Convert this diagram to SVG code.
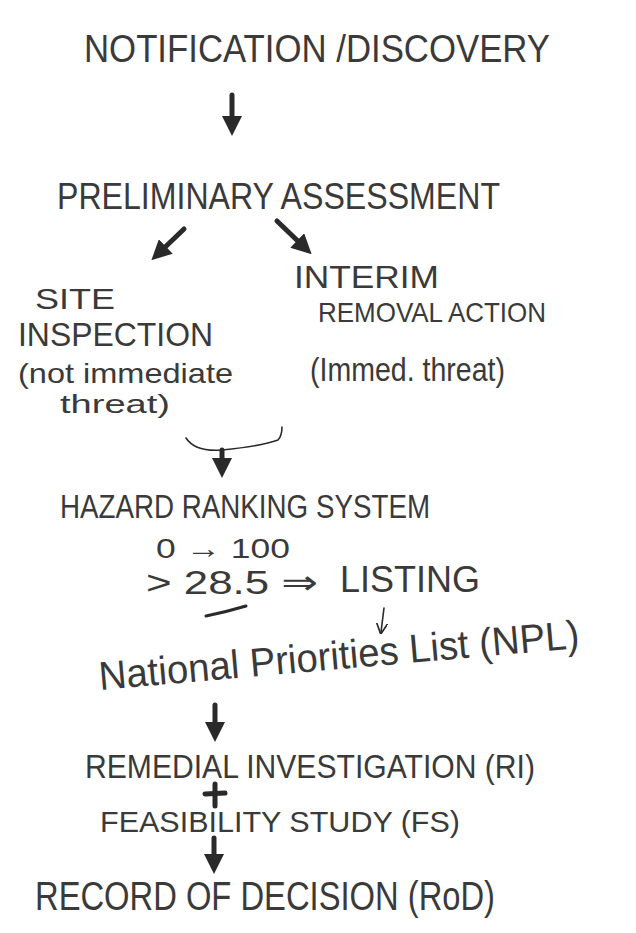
<svg xmlns="http://www.w3.org/2000/svg" width="636" height="933" viewBox="0 0 636 933">
<style>
  .t { font-family: "Liberation Sans", "DejaVu Sans", sans-serif; fill: #3a3a3a; }
  .c { fill: none; stroke: #2a2a2a; stroke-linecap: round; stroke-linejoin: round; }
  .thick { stroke-width: 5; }
  .thin { stroke-width: 1.6; }
</style>
<defs>
  <marker id="ah" viewBox="0 0 10 10" refX="4" refY="5" markerWidth="4" markerHeight="4" orient="auto" markerUnits="strokeWidth">
    <path d="M0,0 L10,5 L0,10 z" fill="#2a2a2a"/>
  </marker>
  <marker id="ahs" viewBox="0 0 10 10" refX="8" refY="5" markerWidth="7" markerHeight="7" orient="auto" markerUnits="strokeWidth">
    <path d="M0,0 L10,5 L0,10" fill="none" stroke="#2a2a2a" stroke-width="1.5"/>
  </marker>
</defs>
<rect width="636" height="933" fill="#ffffff"/>

<g id="connectors">
  <path class="c thick" d="M232,95 L232,124" marker-end="url(#ah)"/>
  <path class="c thick" d="M184,229 L160,252" marker-end="url(#ah)"/>
  <path class="c thick" d="M277,221 L303,246" marker-end="url(#ah)"/>
  <path class="c thin" d="M186,438 Q195,452 222,450 Q262,446 278,440 Q282,436 282,427"/>
  <path class="c thick" d="M222,450 L222,466" marker-end="url(#ah)"/>
  <path class="c" stroke-width="3" d="M206,616 Q226,612 246,606"/>
  <path class="c thin" d="M384,608 L381,632" marker-end="url(#ahs)"/>
  <path class="c thick" d="M215,705 L215,730" marker-end="url(#ah)"/>
  <path class="c thick" d="M215,784 L215,806"/>
  <path class="c thick" d="M205,794 L225,793"/>
  <path class="c thick" d="M214,838 L214,862" marker-end="url(#ah)"/>
</g>

<g id="notification">
  <text class="t" x="84" y="62" font-size="38" textLength="466" lengthAdjust="spacingAndGlyphs">NOTIFICATION /DISCOVERY</text>
</g>

<g id="preliminary">
  <text class="t" x="57" y="209" font-size="36" textLength="443" lengthAdjust="spacingAndGlyphs">PRELIMINARY ASSESSMENT</text>
</g>

<g id="site-inspection">
  <text class="t" x="35" y="309" font-size="30" textLength="80" lengthAdjust="spacingAndGlyphs">SITE</text>
  <text class="t" x="18" y="346" font-size="33" textLength="195" lengthAdjust="spacingAndGlyphs">INSPECTION</text>
  <text class="t" x="18" y="383" font-size="28" textLength="215" lengthAdjust="spacingAndGlyphs">(not immediate</text>
  <text class="t" x="60" y="413" font-size="26" textLength="110" lengthAdjust="spacingAndGlyphs">threat)</text>
</g>

<g id="interim-removal">
  <text class="t" x="294" y="288" font-size="32" textLength="145" lengthAdjust="spacingAndGlyphs">INTERIM</text>
  <text class="t" x="318" y="322" font-size="28" textLength="228" lengthAdjust="spacingAndGlyphs">REMOVAL ACTION</text>
  <text class="t" x="310" y="381" font-size="34" textLength="195" lengthAdjust="spacingAndGlyphs">(Immed. threat)</text>
</g>

<g id="hazard-ranking">
  <text class="t" x="60" y="518" font-size="34" textLength="370" lengthAdjust="spacingAndGlyphs">HAZARD RANKING SYSTEM</text>
  <text class="t" x="156" y="558" font-size="28" textLength="134" lengthAdjust="spacingAndGlyphs">0 → 100</text>
  <text class="t" x="146" y="594" font-size="34" textLength="172" lengthAdjust="spacingAndGlyphs">&gt; 28.5 ⇒</text>
</g>

<g id="listing">
  <text class="t" x="340" y="592" font-size="36" textLength="140" lengthAdjust="spacingAndGlyphs">LISTING</text>
</g>

<g id="npl">
  <text class="t" x="100" y="690" font-size="40" textLength="482" lengthAdjust="spacingAndGlyphs" transform="rotate(-5 100 690)">National Priorities List (NPL)</text>
</g>

<g id="ri-fs">
  <text class="t" x="85" y="778" font-size="34" textLength="450" lengthAdjust="spacingAndGlyphs">REMEDIAL INVESTIGATION (RI)</text>
  <text class="t" x="100" y="832" font-size="30" textLength="360" lengthAdjust="spacingAndGlyphs">FEASIBILITY STUDY (FS)</text>
</g>

<g id="record-of-decision">
  <text class="t" x="35" y="910" font-size="40" textLength="460" lengthAdjust="spacingAndGlyphs">RECORD OF DECISION (RoD)</text>
</g>
</svg>
